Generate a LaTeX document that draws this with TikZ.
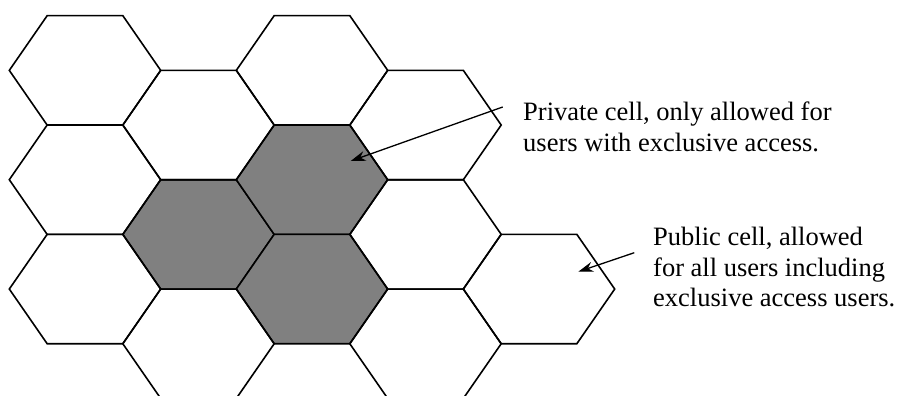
\documentclass[tikz,border=0pt]{standalone}
\usepackage{fontspec}
\setmainfont{Liberation Serif}
\usetikzlibrary{arrows.meta}
\definecolor{cellgray}{RGB}{128,128,128}
\begin{document}
\begin{tikzpicture}[x=1pt,y=-1pt,
  cell/.style={draw=black,line width=1.6pt,line join=miter},
  privcell/.style={cell,fill=cellgray},
  note/.style={align=left,anchor=base west,inner sep=0pt,font=\fontsize{26.5}{30.5}\selectfont},
  pointer/.style={line width=1.3pt,-{Stealth[length=15pt,width=10pt]}}]
\useasboundingbox (0,0) rectangle (897,396);
\clip (0,0) rectangle (897,396);
% shaded (private) cells first
\foreach \c/\k in {2/4,3/3,3/5}{
  \pgfmathsetmacro{\cx}{85+113.5*(\c-1)}
  \pgfmathsetmacro{\cy}{15.7+54.67*\k}
  \draw[privcell] (\cx-75.7,\cy) -- (\cx-37.85,\cy-54.67) -- (\cx+37.85,\cy-54.67)
     -- (\cx+75.7,\cy) -- (\cx+37.85,\cy+54.67) -- (\cx-37.85,\cy+54.67) -- cycle;
}
% public cells
\foreach \c/\k in {1/1,1/3,1/5,2/2,2/6,3/1,4/2,4/4,4/6,5/5}{
  \pgfmathsetmacro{\cx}{85+113.5*(\c-1)}
  \pgfmathsetmacro{\cy}{15.7+54.67*\k}
  \draw[cell] (\cx-75.7,\cy) -- (\cx-37.85,\cy-54.67) -- (\cx+37.85,\cy-54.67)
     -- (\cx+75.7,\cy) -- (\cx+37.85,\cy+54.67) -- (\cx-37.85,\cy+54.67) -- cycle;
}
% base anchor of a multi-line node = baseline of its last line
\node[note] (privtext) at (523,151)
  {Private cell, only allowed for\\users with exclusive access.};
\node[note] (pubtext) at (653,306.7)
  {Public cell, allowed\\for all users including\\exclusive access users.};
\coordinate (privfrom) at (502.7,107);
\coordinate (privto) at (350.7,161);
\coordinate (pubfrom) at (634.3,252.7);
\coordinate (pubto) at (578.3,271.7);
\draw[pointer] (privfrom) -- (privto);
\draw[pointer] (pubfrom) -- (pubto);
\end{tikzpicture}
\end{document}
